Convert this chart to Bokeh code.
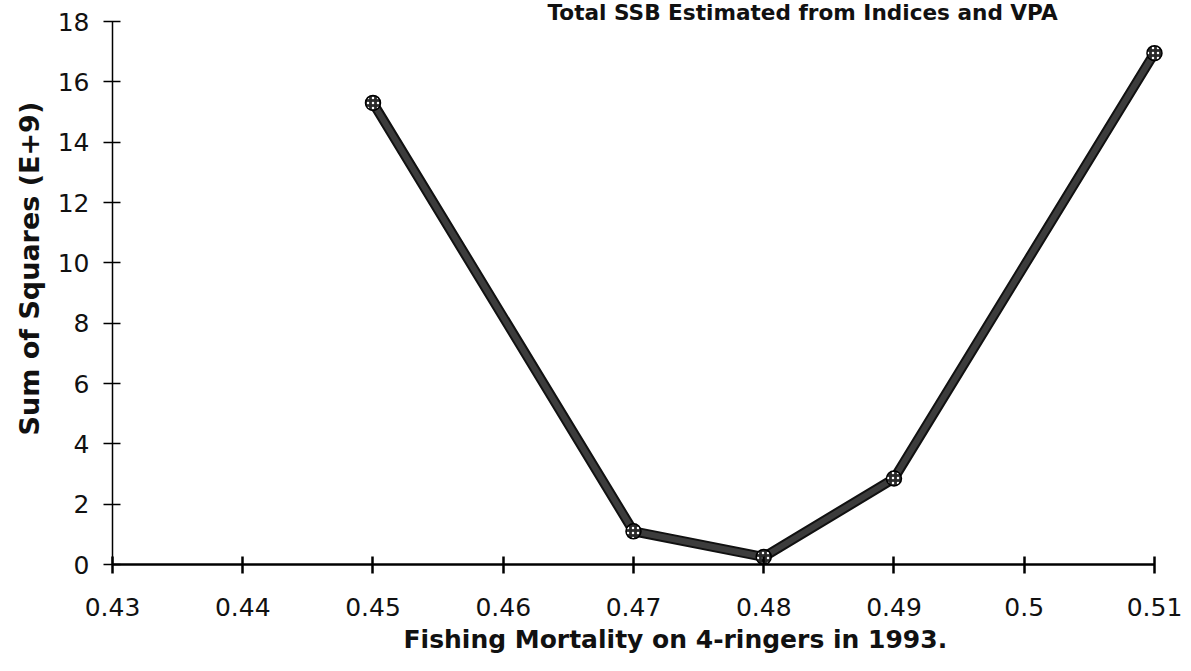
from bokeh.plotting import figure
from bokeh.models import FixedTicker, Range1d, Title, CustomJSTickFormatter
from bokeh.embed import file_html
from bokeh.resources import INLINE

# ---- data ----
f_values = [0.45, 0.47, 0.48, 0.49, 0.51]
ss_values = [15.3, 1.1, 0.25, 2.85, 16.95]

x_ticks = [0.43, 0.44, 0.45, 0.46, 0.47, 0.48, 0.49, 0.50, 0.51]
x_tick_labels = ["0.43", "0.44", "0.45", "0.46", "0.47", "0.48", "0.49", "0.5", "0.51"]
y_ticks = [0, 2, 4, 6, 8, 10, 12, 14, 16, 18]
y_tick_labels = ["0", "2", "4", "6", "8", "10", "12", "14", "16", "18"]

title_text = "Total SSB Estimated from Indices and VPA"
x_title = "Fishing Mortality on 4-ringers in 1993."
y_title = "Sum of Squares (E+9)"

FONT = "DejaVu Sans"

p = figure(width=1183, height=663, output_backend="svg", toolbar_location=None,
           x_range=Range1d(0.43, 0.51077), y_range=Range1d(0, 18),
           min_border_left=112, min_border_right=19, min_border_top=21, min_border_bottom=99)
p.background_fill_color = "white"
p.border_fill_color = "white"
p.outline_line_color = None
p.grid.visible = False

fmt_code = """
for (let i = 0; i < tvals.length; i++) {
  if (Math.abs(tvals[i] - tick) < 1e-9) { return tlabs[i]; }
}
return String(tick);
"""
p.xaxis.ticker = FixedTicker(ticks=x_ticks)
p.xaxis.formatter = CustomJSTickFormatter(args=dict(tvals=x_ticks, tlabs=x_tick_labels), code=fmt_code)
p.xaxis.bounds = (x_ticks[0], x_ticks[-1])
p.yaxis.ticker = FixedTicker(ticks=y_ticks)
p.yaxis.formatter = CustomJSTickFormatter(args=dict(tvals=y_ticks, tlabs=y_tick_labels), code=fmt_code)

for ax in (p.xaxis[0], p.yaxis[0]):
    ax.major_tick_in = 8
    ax.major_tick_out = 9
    ax.minor_tick_line_color = None
    ax.axis_line_color = "black"
    ax.major_tick_line_color = "black"
    ax.major_label_text_font = FONT
    ax.major_label_text_font_size = "25px"
    ax.major_label_text_color = "#111111"
p.xaxis.axis_line_width = 2.5
p.xaxis.major_tick_line_width = 2.5
p.yaxis.axis_line_width = 1.5
p.yaxis.major_tick_line_width = 1.5
p.xaxis.major_label_standoff = 24
p.yaxis.major_label_standoff = 14

# the curve
p.line(f_values, ss_values, line_width=10, line_color="#111111", line_join="round")
p.line(f_values, ss_values, line_width=6, line_color="#3c3c3c", line_join="round")
p.scatter(f_values, ss_values, size=15, marker="circle", fill_color="#2a2a2a",
          line_color="black", line_width=1.5,
          hatch_pattern="dot", hatch_color="white", hatch_scale=5, hatch_weight=1.5)

# titles (placed in the side panels, outside the frame)
p.add_layout(Title(text=title_text, align="left", offset=435, standoff=-6, vertical_align="bottom",
                   text_font=FONT, text_font_style="bold", text_font_size="21.6px",
                   text_color="#111111"), "above")
p.add_layout(Title(text=x_title, align="left", offset=291, standoff=13, vertical_align="top",
                   text_font=FONT, text_font_style="bold", text_font_size="25px",
                   text_color="#111111"), "below")
p.add_layout(Title(text=y_title, align="left", offset=129, standoff=20, vertical_align="bottom",
                   text_font=FONT, text_font_style="bold", text_font_size="27px",
                   text_color="#111111"), "left")

open("out.html", "w").write(file_html(p, INLINE))
